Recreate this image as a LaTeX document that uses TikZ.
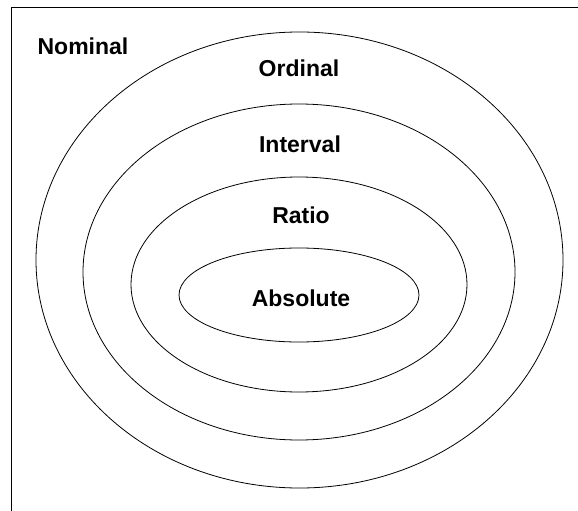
\documentclass[tikz,border=0pt]{standalone}
\usepackage{fontspec}
\setmainfont{Liberation Sans}
\usetikzlibrary{positioning}
\tikzset{
  frame/.style={draw=black,line width=1pt},
  ring/.style={draw=black,line width=.8pt},
  lvl/.style={font=\fontsize{23}{27}\selectfont\bfseries,inner sep=0pt,anchor=base},
}

\begin{document}
\begin{tikzpicture}[x=1pt,y=-1pt]
        \useasboundingbox (0,0) rectangle (578,511);
        \clip (0,0) rectangle (578,511);
        \draw[frame] (11,8) rectangle (600,530);
        % nested scales
        \draw[ring] (299.5,260) ellipse [x radius=263.5,y radius=228];
        \draw[ring] (299,272) ellipse [x radius=216,y radius=168];
        \draw[ring] (299,284.5) ellipse [x radius=168,y radius=107.5];
        \draw[ring] (299,295) ellipse [x radius=120,y radius=47];
        \node[lvl] (nominal) at (83,55) {Nominal};
        \node[lvl] (ordinal) at (299,77) {Ordinal};
        \node[lvl] (interval) at (300,152) {Interval};
        \node[lvl] (ratio) at (301,223) {Ratio};
        \node[lvl] (absolute) at (301,306) {Absolute};
      \end{tikzpicture}
\end{document}
